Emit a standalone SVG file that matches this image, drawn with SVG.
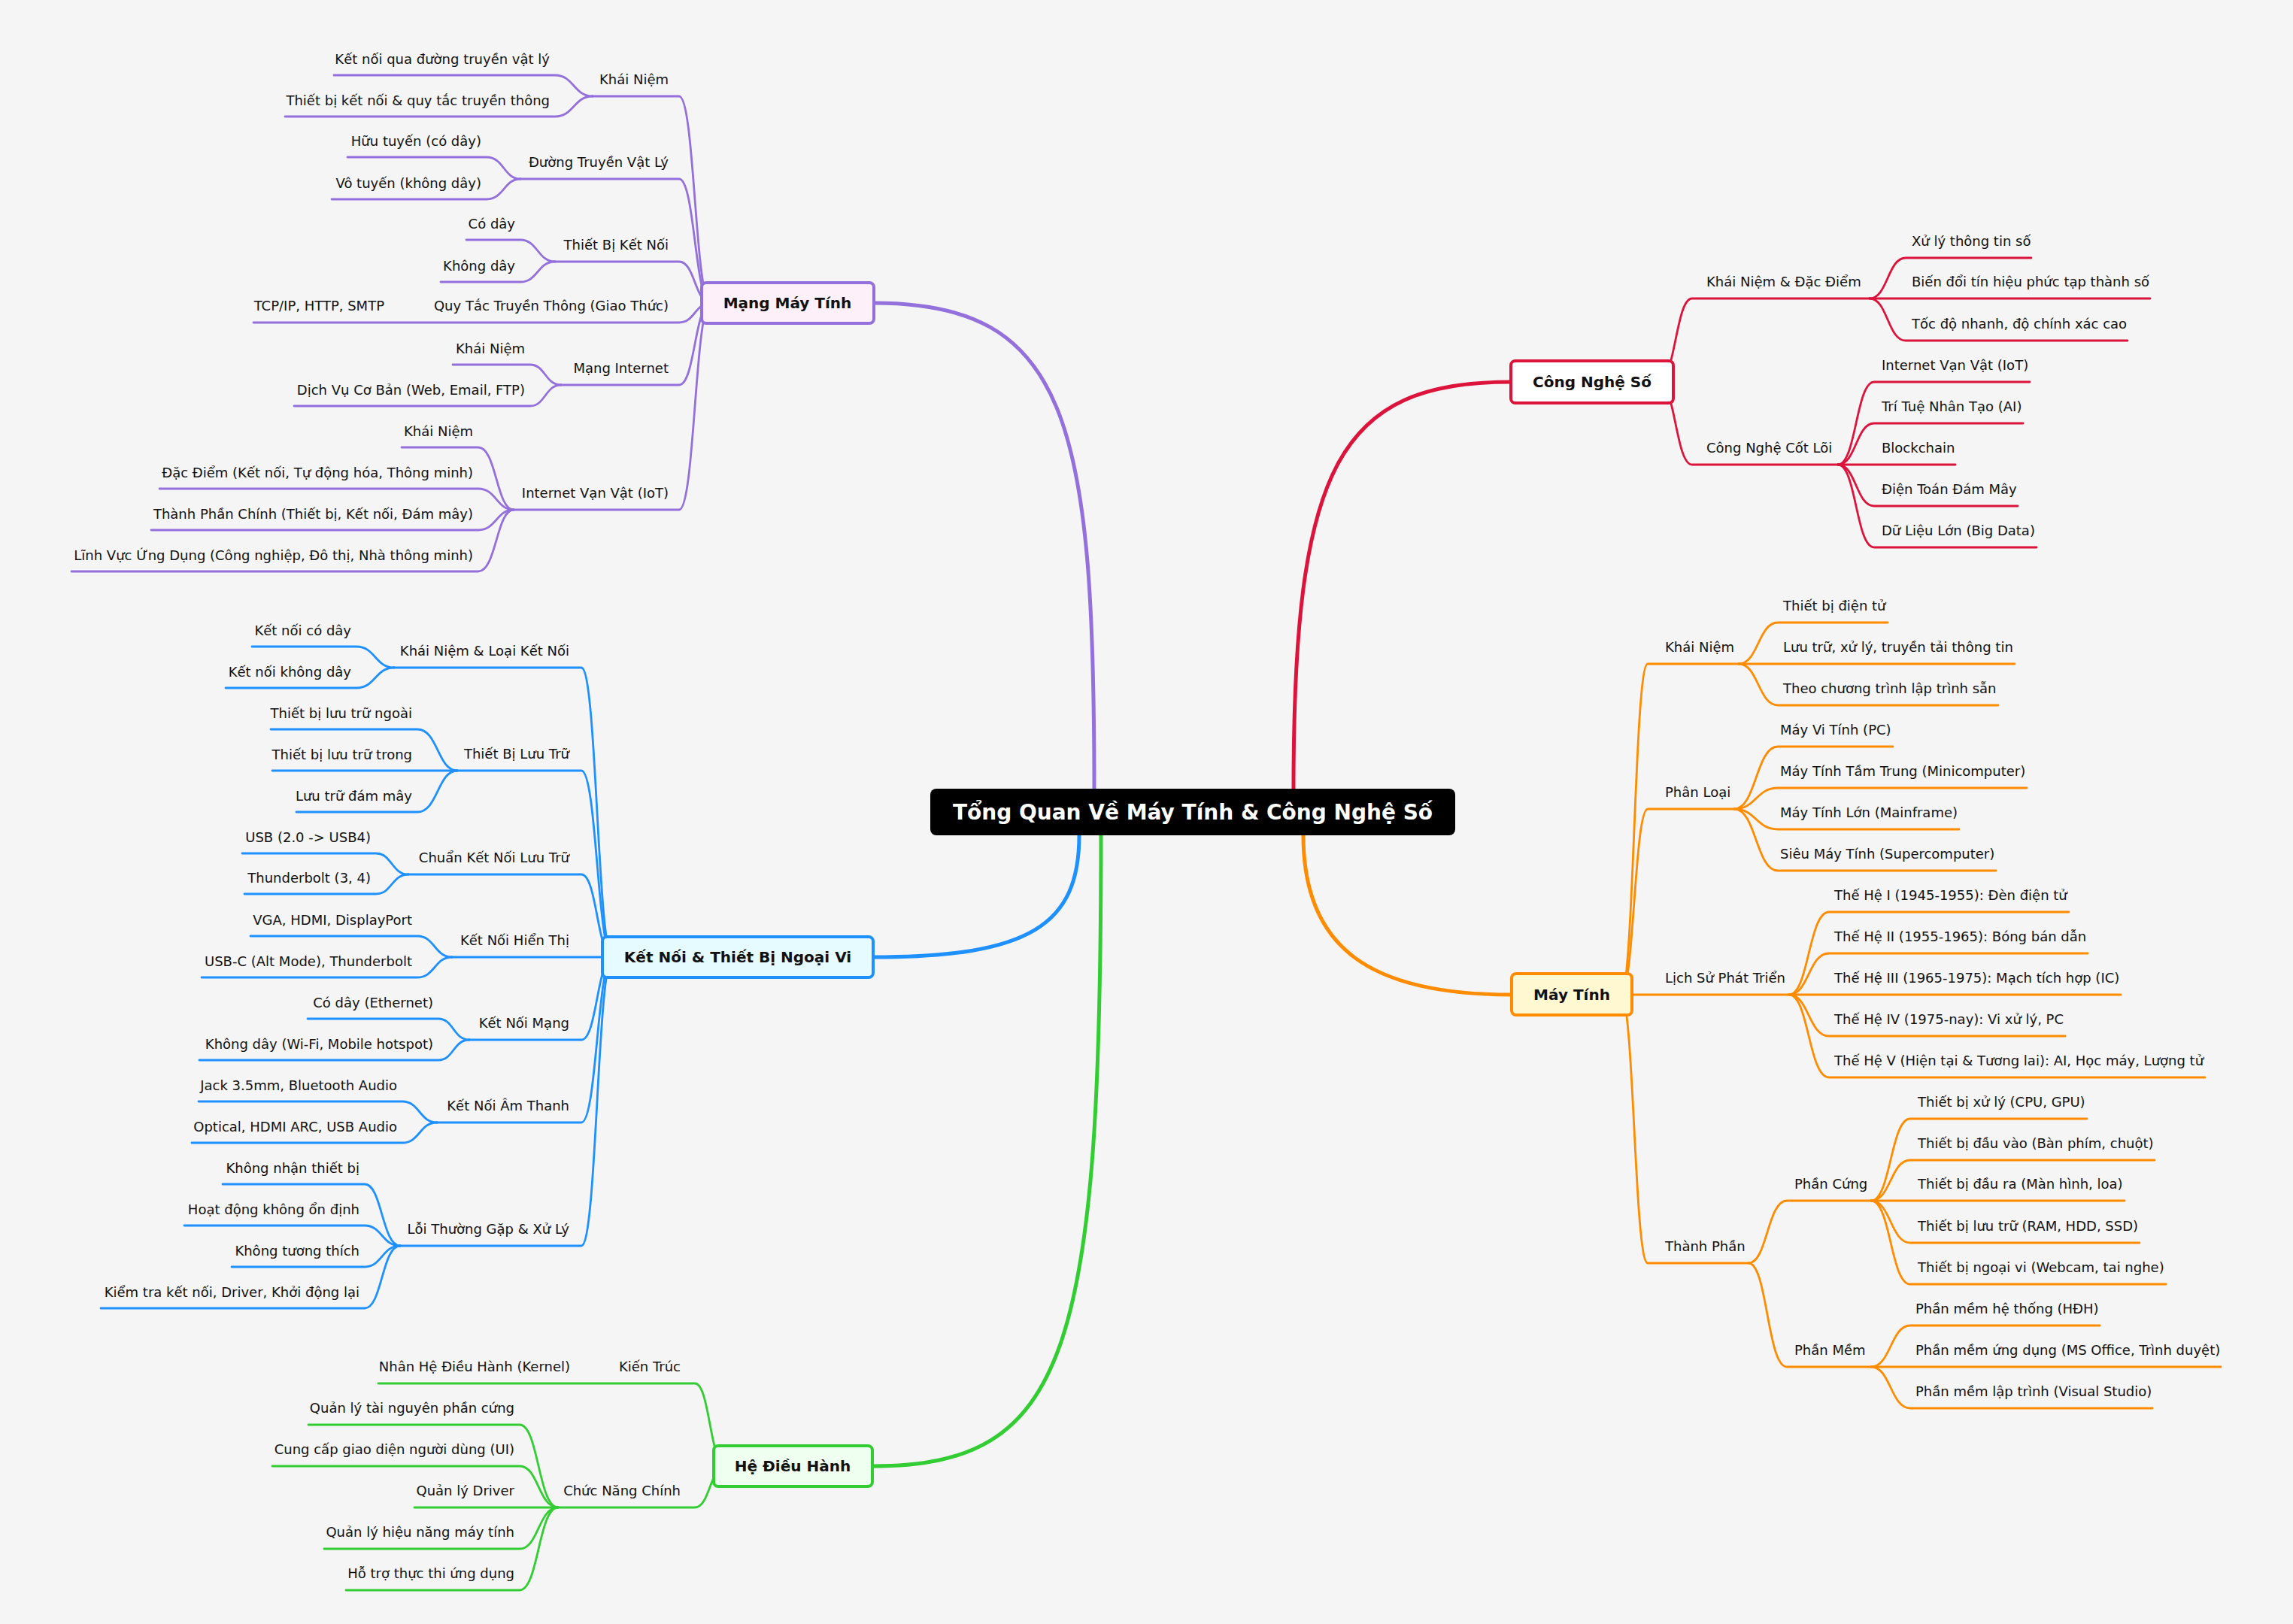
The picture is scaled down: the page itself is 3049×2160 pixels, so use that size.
<svg xmlns="http://www.w3.org/2000/svg" width="3049" height="2160" viewBox="0 0 3049 2160">
<style>
text{font-family:"DejaVu Sans","Noto Sans",sans-serif;font-size:18px;fill:#111}
.l{text-anchor:end}
.c path{fill:none;stroke-width:2.8;stroke-linecap:round}
.m{fill:none;stroke-width:5}
.b{stroke-width:4}
.bt{font-weight:bold;font-size:20px;text-anchor:middle}
.pu path,.pu{stroke:#9370DB}
.bl path,.bl{stroke:#1E90FF}
.gr path,.gr{stroke:#32CD32}
.rd path,.rd{stroke:#DC143C}
.or path,.or{stroke:#FF8C00}
</style>
<rect width="3049" height="2160" fill="#f5f5f5"/>
<g id="connectors">
<path class="m pu" d="M1455 1049 C1455 560 1420 403 1162 403"/>
<path class="m rd" d="M1720 1049 C1720 620 1780 508 2009 508"/>
<path class="m bl" d="M1435 1111 C1435 1230 1370 1273 1161 1273"/>
<path class="m gr" d="M1464 1111 C1464 1800 1420 1950 1160 1950"/>
<path class="m or" d="M1733 1111 C1733 1260 1820 1323 2010 1323"/>
<g class="c pu">
<path d="M945 403 C924 403 924 128 903 128 H788"/>
<path d="M945 403 C924 403 924 238 903 238 H692"/>
<path d="M945 403 C924 403 924 348 903 348 H738"/>
<path d="M945 403 C924 403 924 429 903 429 H337"/>
<path d="M945 403 C924 403 924 512 903 512 H746"/>
<path d="M945 403 C924 403 924 678 903 678 H683"/>
<path d="M788 128 C763 128 763 100 738 100 H444"/>
<path d="M788 128 C763 128 763 155 738 155 H379"/>
<path d="M692 238 C670 238 670 209 647 209 H462"/>
<path d="M692 238 C670 238 670 265 647 265 H441"/>
<path d="M738 348 C715 348 715 319 692 319 H620"/>
<path d="M738 348 C715 348 715 375 692 375 H586"/>
<path d="M746 512 C725 512 725 485 705 485 H602"/>
<path d="M746 512 C725 512 725 540 705 540 H391"/>
<path d="M683 678 C660 678 660 595 636 595 H534"/>
<path d="M683 678 C660 678 660 650 636 650 H212"/>
<path d="M683 678 C660 678 660 705 636 705 H201"/>
<path d="M683 678 C660 678 660 760 636 760 H95"/>
</g>
<g class="c bl">
<path d="M815 1273 C794 1273 794 888 773 888 H524"/>
<path d="M815 1273 C794 1273 794 1025 773 1025 H608"/>
<path d="M815 1273 C794 1273 794 1163 773 1163 H543"/>
<path d="M815 1273 H601"/>
<path d="M815 1273 C794 1273 794 1383 773 1383 H624"/>
<path d="M815 1273 C794 1273 794 1493 773 1493 H581"/>
<path d="M815 1273 C794 1273 794 1657 773 1657 H532"/>
<path d="M524 888 C499 888 499 860 474 860 H335"/>
<path d="M524 888 C499 888 499 915 474 915 H300"/>
<path d="M608 1025 C582 1025 582 970 555 970 H360"/>
<path d="M608 1025 H362"/>
<path d="M608 1025 C582 1025 582 1080 555 1080 H394"/>
<path d="M543 1163 C521 1163 521 1135 500 1135 H322"/>
<path d="M543 1163 C521 1163 521 1189 500 1189 H325"/>
<path d="M601 1273 C578 1273 578 1245 555 1245 H333"/>
<path d="M601 1273 C578 1273 578 1300 555 1300 H268"/>
<path d="M624 1383 C603 1383 603 1355 583 1355 H409"/>
<path d="M624 1383 C603 1383 603 1410 583 1410 H265"/>
<path d="M581 1493 C558 1493 558 1465 535 1465 H264"/>
<path d="M581 1493 C558 1493 558 1520 535 1520 H255"/>
<path d="M532 1657 C508 1657 508 1575 485 1575 H296"/>
<path d="M532 1657 C508 1657 508 1630 485 1630 H245"/>
<path d="M532 1657 C508 1657 508 1685 485 1685 H308"/>
<path d="M532 1657 C508 1657 508 1740 485 1740 H134"/>
</g>
<g class="c gr">
<path d="M965 1950 C944 1950 944 1840 924 1840 H503"/>
<path d="M965 1950 C944 1950 944 2005 924 2005 H742"/>
<path d="M742 2005 C716 2005 716 1895 691 1895 H410"/>
<path d="M742 2005 C716 2005 716 1950 691 1950 H362"/>
<path d="M742 2005 H551"/>
<path d="M742 2005 C716 2005 716 2060 691 2060 H431"/>
<path d="M742 2005 C716 2005 716 2115 691 2115 H460"/>
</g>
<g class="c rd">
<path d="M2205 508 C2228 508 2228 397 2250 397 H2486"/>
<path d="M2205 508 C2228 508 2228 618 2250 618 H2444"/>
<path d="M2486 397 C2510 397 2510 343 2534 343 H2701"/>
<path d="M2486 397 H2859"/>
<path d="M2486 397 C2510 397 2510 453 2534 453 H2829"/>
<path d="M2444 618 C2468 618 2468 508 2492 508 H2699"/>
<path d="M2444 618 C2468 618 2468 563 2492 563 H2690"/>
<path d="M2444 618 H2600"/>
<path d="M2444 618 C2468 618 2468 673 2492 673 H2683"/>
<path d="M2444 618 C2468 618 2468 728 2492 728 H2708"/>
</g>
<g class="c or">
<path d="M2155 1323 C2173 1323 2173 883 2191 883 H2312"/>
<path d="M2155 1323 C2173 1323 2173 1076 2191 1076 H2306"/>
<path d="M2155 1323 C2173 1323 2173 1680 2191 1680 H2325"/>
<path d="M2170 1323 H2379"/>
<path d="M2312 883 C2338 883 2338 828 2364 828 H2510"/>
<path d="M2312 883 H2679"/>
<path d="M2312 883 C2338 883 2338 938 2364 938 H2657"/>
<path d="M2306 1076 C2335 1076 2335 993 2364 993 H2517"/>
<path d="M2306 1076 C2335 1076 2335 1048 2364 1048 H2695"/>
<path d="M2306 1076 C2335 1076 2335 1103 2364 1103 H2605"/>
<path d="M2306 1076 C2335 1076 2335 1158 2364 1158 H2654"/>
<path d="M2379 1323 C2405 1323 2405 1213 2432 1213 H2751"/>
<path d="M2379 1323 C2405 1323 2405 1268 2432 1268 H2776"/>
<path d="M2379 1323 H2820"/>
<path d="M2379 1323 C2405 1323 2405 1378 2432 1378 H2746"/>
<path d="M2379 1323 C2405 1323 2405 1433 2432 1433 H2932"/>
<path d="M2325 1680 C2350 1680 2350 1597 2376 1597 H2488"/>
<path d="M2325 1680 C2350 1680 2350 1818 2376 1818 H2488"/>
<path d="M2488 1597 C2514 1597 2514 1488 2540 1488 H2775"/>
<path d="M2488 1597 C2514 1597 2514 1543 2540 1543 H2865"/>
<path d="M2488 1597 H2825"/>
<path d="M2488 1597 C2514 1597 2514 1653 2540 1653 H2845"/>
<path d="M2488 1597 C2514 1597 2514 1708 2540 1708 H2880"/>
<path d="M2488 1818 C2514 1818 2514 1763 2540 1763 H2792"/>
<path d="M2488 1818 H2953"/>
<path d="M2488 1818 C2514 1818 2514 1873 2540 1873 H2862"/>
</g>
</g>
<g id="root"><rect x="1237" y="1049" width="698" height="62" rx="8" fill="#000"/><text x="1586" y="1090" style="font-size:28px;font-weight:bold;fill:#fff;text-anchor:middle">Tổng Quan Về Máy Tính &amp; Công Nghệ Số</text></g>
<g id="mang"><rect class="b pu" x="933" y="376" width="229" height="54" rx="6" fill="#fdf0f8"/><text class="bt" x="1047" y="410">Mạng Máy Tính</text></g>
<g id="ketnoi"><rect class="b bl" x="801" y="1246" width="360" height="54" rx="6" fill="#e6fbff"/><text class="bt" x="981" y="1280">Kết Nối &amp; Thiết Bị Ngoại Vi</text></g>
<g id="hdh"><rect class="b gr" x="949" y="1923" width="211" height="54" rx="6" fill="#effff0"/><text class="bt" x="1054" y="1957">Hệ Điều Hành</text></g>
<g id="cns"><rect class="b rd" x="2009" y="480" width="216" height="56" rx="6" fill="#fff"/><text class="bt" x="2117" y="515">Công Nghệ Số</text></g>
<g id="maytinh"><rect class="b or" x="2010" y="1295" width="160" height="55" rx="6" fill="#fff8d0"/><text class="bt" x="2090" y="1330">Máy Tính</text></g>
<g id="labels-mang" class="l">
<text x="889" y="112">Khái Niệm</text>
<text x="889" y="222">Đường Truyền Vật Lý</text>
<text x="889" y="332">Thiết Bị Kết Nối</text>
<text x="889" y="413">Quy Tắc Truyền Thông (Giao Thức)</text>
<text x="889" y="496">Mạng Internet</text>
<text x="889" y="662">Internet Vạn Vật (IoT)</text>
<text x="731" y="85">Kết nối qua đường truyền vật lý</text>
<text x="731" y="140">Thiết bị kết nối &amp; quy tắc truyền thông</text>
<text x="640" y="194">Hữu tuyến (có dây)</text>
<text x="640" y="250">Vô tuyến (không dây)</text>
<text x="685" y="304">Có dây</text>
<text x="685" y="360">Không dây</text>
<text x="511" y="413">TCP/IP, HTTP, SMTP</text>
<text x="698" y="470">Khái Niệm</text>
<text x="698" y="525">Dịch Vụ Cơ Bản (Web, Email, FTP)</text>
<text x="629" y="580">Khái Niệm</text>
<text x="629" y="635">Đặc Điểm (Kết nối, Tự động hóa, Thông minh)</text>
<text x="629" y="690">Thành Phần Chính (Thiết bị, Kết nối, Đám mây)</text>
<text x="629" y="745">Lĩnh Vực Ứng Dụng (Công nghiệp, Đô thị, Nhà thông minh)</text>
</g>
<g id="labels-ketnoi" class="l">
<text x="757" y="872">Khái Niệm &amp; Loại Kết Nối</text>
<text x="757" y="1009">Thiết Bị Lưu Trữ</text>
<text x="757" y="1147">Chuẩn Kết Nối Lưu Trữ</text>
<text x="757" y="1257">Kết Nối Hiển Thị</text>
<text x="757" y="1367">Kết Nối Mạng</text>
<text x="757" y="1477">Kết Nối Âm Thanh</text>
<text x="757" y="1641">Lỗi Thường Gặp &amp; Xử Lý</text>
<text x="467" y="845">Kết nối có dây</text>
<text x="467" y="900">Kết nối không dây</text>
<text x="548" y="955">Thiết bị lưu trữ ngoài</text>
<text x="548" y="1010">Thiết bị lưu trữ trong</text>
<text x="548" y="1065">Lưu trữ đám mây</text>
<text x="493" y="1120">USB (2.0 -&gt; USB4)</text>
<text x="493" y="1174">Thunderbolt (3, 4)</text>
<text x="548" y="1230">VGA, HDMI, DisplayPort</text>
<text x="548" y="1285">USB-C (Alt Mode), Thunderbolt</text>
<text x="576" y="1340">Có dây (Ethernet)</text>
<text x="576" y="1395">Không dây (Wi-Fi, Mobile hotspot)</text>
<text x="528" y="1450">Jack 3.5mm, Bluetooth Audio</text>
<text x="528" y="1505">Optical, HDMI ARC, USB Audio</text>
<text x="478" y="1560">Không nhận thiết bị</text>
<text x="478" y="1615">Hoạt động không ổn định</text>
<text x="478" y="1670">Không tương thích</text>
<text x="478" y="1725">Kiểm tra kết nối, Driver, Khởi động lại</text>
</g>
<g id="labels-hdh" class="l">
<text x="905" y="1824">Kiến Trúc</text>
<text x="758" y="1824">Nhân Hệ Điều Hành (Kernel)</text>
<text x="905" y="1989">Chức Năng Chính</text>
<text x="684" y="1879">Quản lý tài nguyên phần cứng</text>
<text x="684" y="1934">Cung cấp giao diện người dùng (UI)</text>
<text x="684" y="1989">Quản lý Driver</text>
<text x="684" y="2044">Quản lý hiệu năng máy tính</text>
<text x="684" y="2099">Hỗ trợ thực thi ứng dụng</text>
</g>
<g id="labels-cns">
<text x="2269" y="381">Khái Niệm &amp; Đặc Điểm</text>
<text x="2269" y="602">Công Nghệ Cốt Lõi</text>
<text x="2542" y="327">Xử lý thông tin số</text>
<text x="2542" y="381">Biến đổi tín hiệu phức tạp thành số</text>
<text x="2542" y="437">Tốc độ nhanh, độ chính xác cao</text>
<text x="2502" y="492">Internet Vạn Vật (IoT)</text>
<text x="2502" y="547">Trí Tuệ Nhân Tạo (AI)</text>
<text x="2502" y="602">Blockchain</text>
<text x="2502" y="657">Điện Toán Đám Mây</text>
<text x="2502" y="712">Dữ Liệu Lớn (Big Data)</text>
</g>
<g id="labels-maytinh">
<text x="2214" y="867">Khái Niệm</text>
<text x="2214" y="1060">Phân Loại</text>
<text x="2214" y="1307">Lịch Sử Phát Triển</text>
<text x="2214" y="1664">Thành Phần</text>
<text x="2371" y="812">Thiết bị điện tử</text>
<text x="2371" y="867">Lưu trữ, xử lý, truyền tải thông tin</text>
<text x="2371" y="922">Theo chương trình lập trình sẵn</text>
<text x="2367" y="977">Máy Vi Tính (PC)</text>
<text x="2367" y="1032">Máy Tính Tầm Trung (Minicomputer)</text>
<text x="2367" y="1087">Máy Tính Lớn (Mainframe)</text>
<text x="2367" y="1142">Siêu Máy Tính (Supercomputer)</text>
<text x="2439" y="1197">Thế Hệ I (1945-1955): Đèn điện tử</text>
<text x="2439" y="1252">Thế Hệ II (1955-1965): Bóng bán dẫn</text>
<text x="2439" y="1307">Thế Hệ III (1965-1975): Mạch tích hợp (IC)</text>
<text x="2439" y="1362">Thế Hệ IV (1975-nay): Vi xử lý, PC</text>
<text x="2439" y="1417">Thế Hệ V (Hiện tại &amp; Tương lai): AI, Học máy, Lượng tử</text>
<text x="2386" y="1581">Phần Cứng</text>
<text x="2386" y="1802">Phần Mềm</text>
<text x="2550" y="1472">Thiết bị xử lý (CPU, GPU)</text>
<text x="2550" y="1527">Thiết bị đầu vào (Bàn phím, chuột)</text>
<text x="2550" y="1581">Thiết bị đầu ra (Màn hình, loa)</text>
<text x="2550" y="1637">Thiết bị lưu trữ (RAM, HDD, SSD)</text>
<text x="2550" y="1692">Thiết bị ngoại vi (Webcam, tai nghe)</text>
<text x="2547" y="1747">Phần mềm hệ thống (HĐH)</text>
<text x="2547" y="1802">Phần mềm ứng dụng (MS Office, Trình duyệt)</text>
<text x="2547" y="1857">Phần mềm lập trình (Visual Studio)</text>
</g>
</svg>
